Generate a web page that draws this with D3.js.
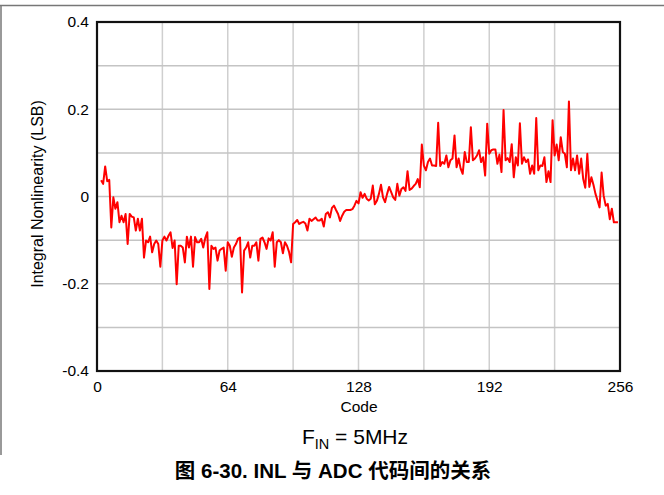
<!DOCTYPE html>
<html>
<head>
<meta charset="utf-8">
<script src="https://cdn.jsdelivr.net/npm/d3@7/dist/d3.min.js"></script>
<style>
  html, body { margin: 0; padding: 0; background: #fff; }
  svg { display: block; }
</style>
</head>
<body>
<svg id="chart" width="664" height="495"></svg>
<script>
// ---- data ----
const firstCode = 2;
const inlValues = [
  0.037, 0.029, 0.069, 0.035, 0.038, -0.071, -0.002, -0.028, -0.013, -0.059,
  -0.044, -0.059, -0.040, -0.109, -0.040, -0.046, -0.048, -0.078, -0.051, -0.078,
  -0.051, -0.140, -0.101, -0.105, -0.092, -0.128, -0.109, -0.101, -0.109, -0.161,
  -0.101, -0.092, -0.101, -0.090, -0.082, -0.118, -0.101, -0.201, -0.113, -0.113,
  -0.117, -0.151, -0.092, -0.117, -0.092, -0.161, -0.093, -0.105, -0.105, -0.097,
  -0.117, -0.095, -0.082, -0.212, -0.113, -0.120, -0.117, -0.147, -0.124, -0.120,
  -0.117, -0.170, -0.105, -0.113, -0.138, -0.117, -0.109, -0.097, -0.094, -0.220,
  -0.124, -0.117, -0.105, -0.140, -0.113, -0.113, -0.105, -0.147, -0.097, -0.094,
  -0.105, -0.120, -0.096, -0.101, -0.082, -0.161, -0.105, -0.100, -0.105, -0.130,
  -0.105, -0.113, -0.127, -0.151, -0.063, -0.059, -0.054, -0.063, -0.060, -0.058,
  -0.062, -0.078, -0.051, -0.056, -0.052, -0.048, -0.055, -0.055, -0.051, -0.069,
  -0.040, -0.036, -0.048, -0.026, -0.021, -0.031, -0.040, -0.056, -0.044, -0.035,
  -0.031, -0.031, -0.031, -0.029, -0.021, -0.010, -0.016, 0.010, -0.003, 0.006,
  -0.005, -0.009, -0.005, 0.025, -0.018, -0.010, 0.006, 0.027, -0.002, -0.013,
  0.006, 0.022, 0.010, -0.002, -0.008, 0.029, 0.002, 0.017, 0.021, 0.013,
  0.058, 0.015, 0.018, 0.024, 0.029, 0.040, 0.021, 0.119, 0.071, 0.060,
  0.079, 0.087, 0.071, 0.071, 0.070, 0.169, 0.070, 0.079, 0.075, 0.094,
  0.067, 0.083, 0.087, 0.140, 0.067, 0.087, 0.064, 0.052, 0.102, 0.079,
  0.079, 0.159, 0.083, 0.087, 0.094, 0.106, 0.079, 0.090, 0.048, 0.167,
  0.098, 0.106, 0.108, 0.108, 0.075, 0.096, 0.056, 0.198, 0.083, 0.088,
  0.079, 0.120, 0.044, 0.090, 0.071, 0.168, 0.075, 0.090, 0.079, 0.085,
  0.052, 0.071, 0.052, 0.180, 0.060, 0.071, 0.070, 0.090, 0.033, 0.058,
  0.033, 0.175, 0.094, 0.119, 0.083, 0.136, 0.102, 0.098, 0.067, 0.218,
  0.060, 0.087, 0.060, 0.094, 0.052, 0.087, 0.040, 0.020, 0.098, 0.022,
  0.044, 0.027, 0.006, -0.009, -0.025, 0.055, 0.002, -0.021, -0.017, -0.052,
  -0.028, -0.059, -0.059, -0.059
];
const xTicks = [0, 64, 128, 192, 256];
const xTickLabels = ["0", "64", "128", "192", "256"];
const xGrid = [32, 64, 96, 128, 160, 192, 224];
const yTicks = [0.4, 0.2, 0, -0.2, -0.4];
const yTickLabels = ["0.4", "0.2", "0", "-0.2", "-0.4"];
const yGrid = [0.3, 0.2, 0.1, 0, -0.1, -0.2, -0.3];
const xTitle = "Code";
const yTitle = "Integral Nonlinearity (LSB)";
const caption = "图 6-30. INL 与 ADC 代码间的关系";

// ---- layout ----
const L = 97, R = 620, T = 22, B = 371;
const latin = "'Liberation Sans', Arial, sans-serif";
const cjk = "'Liberation Sans', 'Noto Sans CJK SC', sans-serif";

const svg = d3.select("#chart");
const x = d3.scaleLinear().domain([0, 256]).range([L, R]);
const y = d3.scaleLinear().domain([-0.4, 0.4]).range([B, T]);

// page frame lines
svg.append("line").attr("x1", 0).attr("x2", 664).attr("y1", 5.5).attr("y2", 5.5)
  .attr("stroke", "#777").attr("stroke-width", 1.5);
svg.append("line").attr("x1", 1).attr("x2", 1).attr("y1", 5).attr("y2", 455)
  .attr("stroke", "#777").attr("stroke-width", 1.5);

// grid
const g = svg.append("g");
g.selectAll(".vg").data(xGrid).join("line")
  .attr("x1", d => x(d)).attr("x2", d => x(d)).attr("y1", T).attr("y2", B)
  .attr("stroke", "#cfcfcf").attr("stroke-width", 1.5);
g.selectAll(".hg").data(yGrid).join("line")
  .attr("x1", L).attr("x2", R).attr("y1", d => y(d)).attr("y2", d => y(d))
  .attr("stroke", "#c4c4c4").attr("stroke-width", 1.5);

// line
const pts = inlValues.map((v, i) => [firstCode + i, v]);
const line = d3.line().x(d => x(d[0])).y(d => y(d[1]));
svg.append("path").datum(pts).attr("d", line)
  .attr("fill", "none").attr("stroke", "#ff0000").attr("stroke-width", 2)
  .attr("stroke-linejoin", "round");

// frame
svg.append("rect").attr("x", L).attr("y", T).attr("width", R - L).attr("height", B - T)
  .attr("fill", "none").attr("stroke", "#111").attr("stroke-width", 2.2);

// axes (tick labels only)
const xAxis = d3.axisBottom(x).tickValues(xTicks).tickSize(0).tickPadding(10)
  .tickFormat((d, i) => xTickLabels[i]);
const gx = svg.append("g").attr("transform", `translate(0,${B})`).call(xAxis);
gx.select(".domain").remove();
gx.selectAll("text").attr("font-family", latin).attr("font-size", 15.5).attr("fill", "#000");

const yAxis = d3.axisLeft(y).tickValues(yTicks).tickSize(0).tickPadding(8)
  .tickFormat((d, i) => yTickLabels[i]);
const gy = svg.append("g").attr("transform", `translate(${L},0)`).call(yAxis);
gy.select(".domain").remove();
gy.selectAll("text").attr("font-family", latin).attr("font-size", 15.5).attr("fill", "#000");

// titles
svg.append("text").attr("x", 359).attr("y", 412).attr("text-anchor", "middle")
  .attr("font-family", latin).attr("font-size", 15.5).text(xTitle);
svg.append("text").attr("transform", "translate(43,194) rotate(-90)")
  .attr("text-anchor", "middle").attr("font-family", latin).attr("font-size", 16).text(yTitle);

// FIN annotation
const fin = svg.append("text").attr("x", 355).attr("y", 444).attr("text-anchor", "middle")
  .attr("font-family", latin).attr("font-size", 21);
fin.append("tspan").text("F");
fin.append("tspan").attr("font-size", 14.5).attr("dy", 5).text("IN");
fin.append("tspan").attr("dy", -5).text(" = 5MHz");

// caption
svg.append("text").attr("x", 333).attr("y", 478).attr("text-anchor", "middle")
  .attr("font-family", cjk).attr("font-weight", "bold").attr("font-size", 20.5).text(caption);
</script>
</body>
</html>
